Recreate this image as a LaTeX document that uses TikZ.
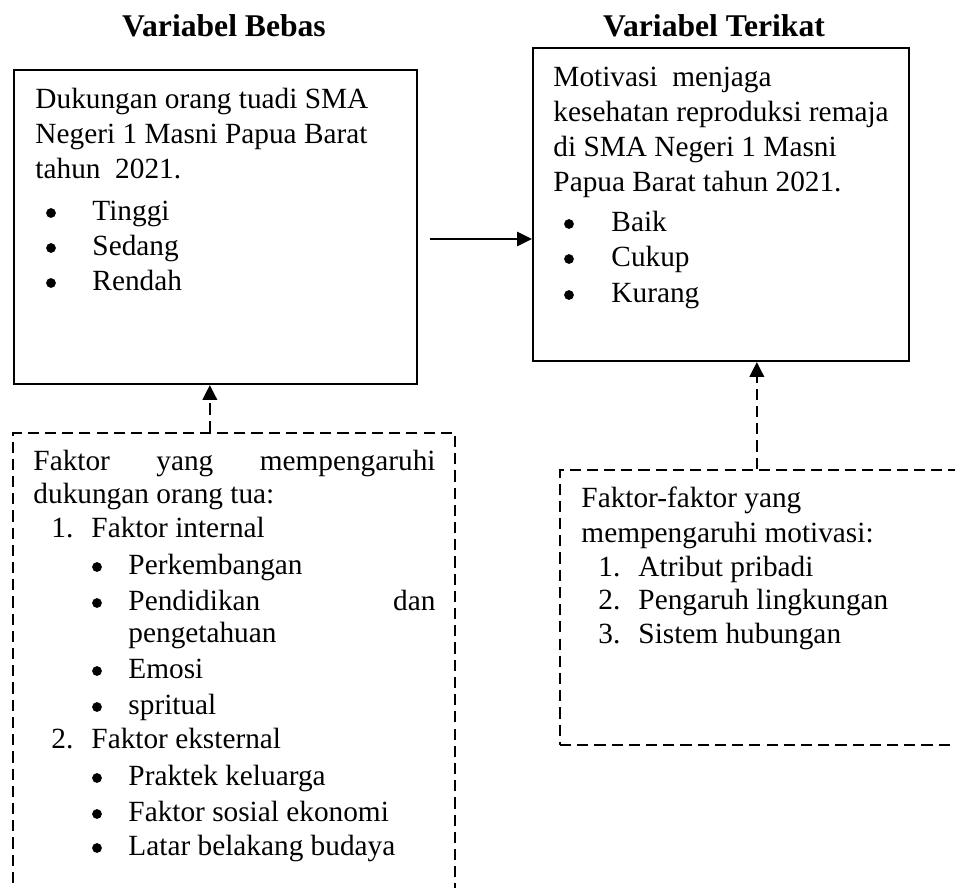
\documentclass[tikz,border=0pt]{standalone}
\usepackage{fontspec}
\setmainfont{Liberation Serif}
\usetikzlibrary{arrows.meta,fit,positioning}
\tikzset{
    varbox/.style={rectangle,draw,line width=0.9pt,inner sep=0pt},
    factorbox/.style={rectangle,draw,line width=1pt,dash pattern=on 4.8pt off 2.6pt,inner sep=0pt},
    title/.style={anchor=base,inner sep=0pt,font=\fontsize{13.6}{16}\selectfont\bfseries},
    txt/.style={anchor=base west,inner sep=0pt,font=\fontsize{12.6}{15}\selectfont},
    dot/.style={circle,fill,inner sep=0pt,minimum size=4.2pt},
    paths/.style={-{Triangle[length=6.4pt,width=6.2pt]},line width=0.65pt},
    dpaths/.style={paths,line width=1pt,dash pattern=on 4.8pt off 2.6pt}
}

\begin{document}
\begin{tikzpicture}[x=0.43pt,y=-0.43pt]
\useasboundingbox (0,0) rectangle (955,887);
\clip (0,0) rectangle (955,887);
% titles
\node [title] (tbebas) at (224,36) {Variabel Bebas};
\node [title] (tterikat) at (714,36) {Variabel Terikat};
% boxes
\node [varbox,fit={(14,70) (417,384)}] (bebas) {};
\node [varbox,fit={(533,48) (909,361)}] (terikat) {};
\node [factorbox,fit={(13,433) (455,900)}] (faktorA) {};
\node [factorbox,fit={(560,470) (975,745)}] (faktorB) {};
% variabel bebas
\foreach \yy/\t [count=\i] in {108/Dukungan orang tuadi SMA,143/Negeri 1 Masni Papua Barat,178/tahun\ \ 2021.}
\node [txt] (bebas-\i) at (35,\yy) {\t};
\foreach \yy/\t [count=\i] in {220/Tinggi,255/Sedang,290/Rendah}
{
\node [dot] (bebas-b\i) at (51,\yy-7) {};
\node [txt] (bebas-i\i) at (92,\yy) {\t};
}
% variabel terikat
\foreach \yy/\t [count=\i] in {86/Motivasi\ \ menjaga,121/kesehatan reproduksi remaja,156/di SMA Negeri 1 Masni,191/Papua Barat tahun 2021.}
\node [txt] (terikat-\i) at (553,\yy) {\t};
\foreach \yy/\t [count=\i] in {231/Baik,266/Cukup,302/Kurang}
{
\node [dot] (terikat-b\i) at (569,\yy-7) {};
\node [txt] (terikat-i\i) at (611,\yy) {\t};
}
% faktor dukungan orang tua
\node [txt] (fa-1) at (33,470) {\makebox[172.9pt][s]{Faktor yang mempengaruhi}};
\node [txt] (fa-2) at (33,503) {dukungan orang tua:};
\node [txt] (fa-n1) at (51,537) {1.};
\node [txt] (fa-h1) at (91,537) {Faktor internal};
\node [txt] (fa-n2) at (51,748) {2.};
\node [txt] (fa-h2) at (91,748) {Faktor eksternal};
\foreach \yy/\t [count=\i] in {574/Perkembangan,678/Emosi,714/spritual,785/Praktek keluarga,821/Faktor sosial ekonomi,855/Latar belakang budaya}
{
\node [dot] (fa-b\i) at (97,\yy-7) {};
\node [txt] (fa-i\i) at (128,\yy) {\t};
}
\node [dot] (fa-b0) at (97,603) {};
\node [txt] (fa-i0) at (128,610) {\makebox[132pt][s]{Pendidikan dan}};
\node [txt] (fa-i0b) at (128,642) {pengetahuan};
% faktor motivasi
\node [txt] (fb-1) at (581,507) {Faktor-faktor yang};
\node [txt] (fb-2) at (581,542) {mempengaruhi motivasi:};
\foreach \yy/\t [count=\i] in {576/Atribut pribadi,609/Pengaruh lingkungan,643/Sistem hubungan}
{
\node [txt] (fb-n\i) at (598,\yy) {\i.};
\node [txt] (fb-i\i) at (638,\yy) {\t};
}
% arrows
\draw [paths] (bebas.east) ++(12,12) coordinate (s) -- (s -| terikat.west);
\draw [dpaths] (faktorA.north west) ++(198,0) coordinate (p) -- (p |- bebas.south);
\draw [dpaths] (faktorB.north west) ++(198,0) coordinate (q) -- (q |- terikat.south);
\end{tikzpicture}
\end{document}
